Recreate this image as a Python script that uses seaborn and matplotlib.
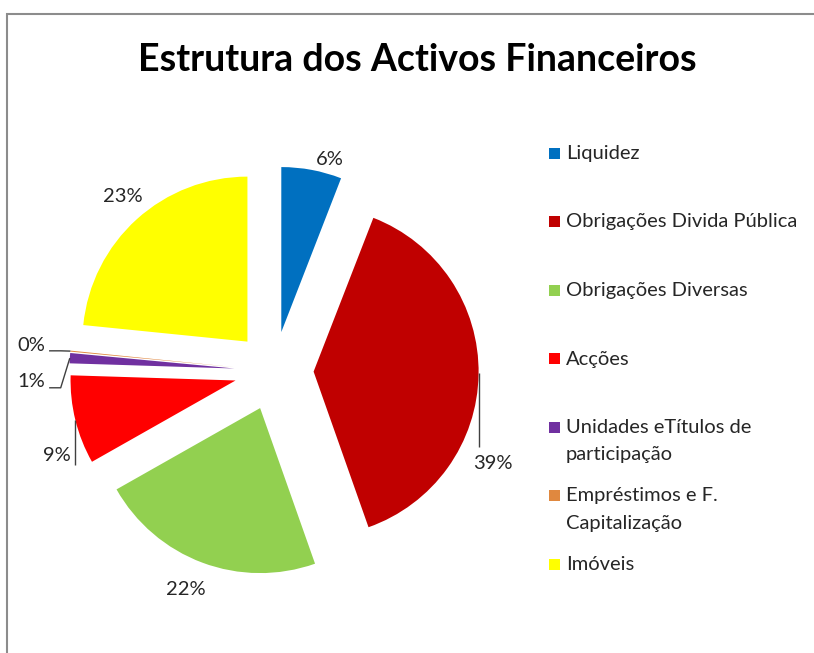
import matplotlib
matplotlib.use("Agg")
import matplotlib.pyplot as plt
from matplotlib.patches import Rectangle
import numpy as np
import seaborn as sns

# ---------------- data ----------------
categories = ["Liquidez", "Obrigações Divida Pública", "Obrigações Diversas", "Acções",
              "Unidades eTítulos de participação", "Empréstimos e F. Capitalização", "Imóveis"]
legend_lines = [["Liquidez"], ["Obrigações Divida Pública"], ["Obrigações Diversas"], ["Acções"],
                ["Unidades eTítulos de", "participação"], ["Empréstimos e F.", "Capitalização"],
                ["Imóveis"]]
shares = [5.9, 38.7, 22.2, 8.7, 1.0, 0.1, 23.4]
colors = ["#0070C0", "#C00000", "#92D050", "#FF0000", "#7030A0", "#E0883F", "#FFFF00"]
title = "Estrutura dos Activos Financeiros"

# ---------------- style ----------------
sns.set_theme(style="white")
plt.rcParams["font.family"] = ["Lato", "DejaVu Sans"]
palette = sns.color_palette(colors)

W, H = 814, 653
fig = plt.figure(figsize=(W / 100, H / 100), dpi=100)
fig.patch.set_facecolor("white")

# pie geometry in pixels
cx, cy, R = 274, 371, 165
ax = fig.add_axes([0, 0, 1, 1])
explode = 0.24
wedges, _ = ax.pie(shares, colors=palette, startangle=90, counterclock=False,
                   explode=[explode] * len(shares), radius=1,
                   wedgeprops=dict(linewidth=0))
ax.set_xlim(-cx / R, (W - cx) / R)
ax.set_ylim(-(H - cy) / R, cy / R)
ax.set_aspect("equal")
ax.axis("off")

# mid angles and exploded centres
mids, centres = [], []
for w in wedges:
    m = np.deg2rad((w.theta1 + w.theta2) / 2)
    mids.append(m)
    centres.append(np.array(w.center))

def arc_point(i, ang_deg=None):
    a = mids[i] if ang_deg is None else np.deg2rad(ang_deg)
    return centres[i] + np.array([np.cos(a), np.sin(a)])

pct_labels = [f"{round(v):.0f}%" for v in shares]
txt_color = "#262626"
lab_fs = 14.5

# label placement (polar, relative to pie centre): (radius, angle in degrees)
label_polar = {0: (1.323, 75.2), 1: (1.44, -22.8), 2: (1.43, -111.9), 3: (1.41, -158.8),
               4: (1.474, 182.4), 5: (1.481, 174.1), 6: (1.40, 131.0)}
label_xy = {}
for i, (r, a) in label_polar.items():
    p = r * np.array([np.cos(np.deg2rad(a)), np.sin(np.deg2rad(a))])
    label_xy[i] = p
    ax.text(p[0], p[1], pct_labels[i], ha="center", va="center", fontsize=lab_fs,
            color=txt_color)

lc = dict(color="#404040", lw=1.0, solid_capstyle="butt")
# 39% leader: vertical from arc down to label
p_arc = arc_point(1, -0.5)
ax.plot([p_arc[0], p_arc[0]], [p_arc[1], label_xy[1][1] + 0.10], **lc)
# 9% leader: vertical from label up to arc
p_arc = arc_point(3, -166.0)
ax.plot([p_arc[0], p_arc[0]], [p_arc[1], label_xy[3][1] - 0.06], **lc)
# 1% and 0% leaders: horizontal stub then to slice tip
for i, dy in ((4, -0.04), (5, -0.03)):
    lx, ly = label_xy[i]
    x0 = lx + 0.11
    x1 = x0 + 0.07
    tip = arc_point(i)
    ax.plot([x0, x1, tip[0]], [ly + dy, ly + dy, tip[1]], **lc)

# ---------------- title ----------------
fig.text(417 / W, 1 - 71 / H, title, ha="center", va="baseline", fontsize=27,
         fontweight="bold", color="black")

# ---------------- legend (manual, Excel style) ----------------
base0, pitch, line_step = 159, 68.5, 27
for i, lines in enumerate(legend_lines):
    b = base0 + pitch * i
    fig.patches.append(Rectangle(((549) / W, 1 - (b - 0.5) / H), 11 / W, 11 / H,
                                 transform=fig.transFigure, facecolor=palette[i],
                                 edgecolor="none"))
    for k, line in enumerate(lines):
        fig.text(566 / W, 1 - (b + k * line_step) / H, line, ha="left", va="baseline",
                 fontsize=lab_fs, color=txt_color)

# ---------------- outer border ----------------
fig.patches.append(Rectangle((7 / W, -0.1), 1.2, (1 - 14 / H) + 0.1,
                             transform=fig.transFigure, facecolor="none",
                             edgecolor="#8c8c8c", linewidth=1.5))

fig.savefig("out.png", dpi=100, facecolor="white")
